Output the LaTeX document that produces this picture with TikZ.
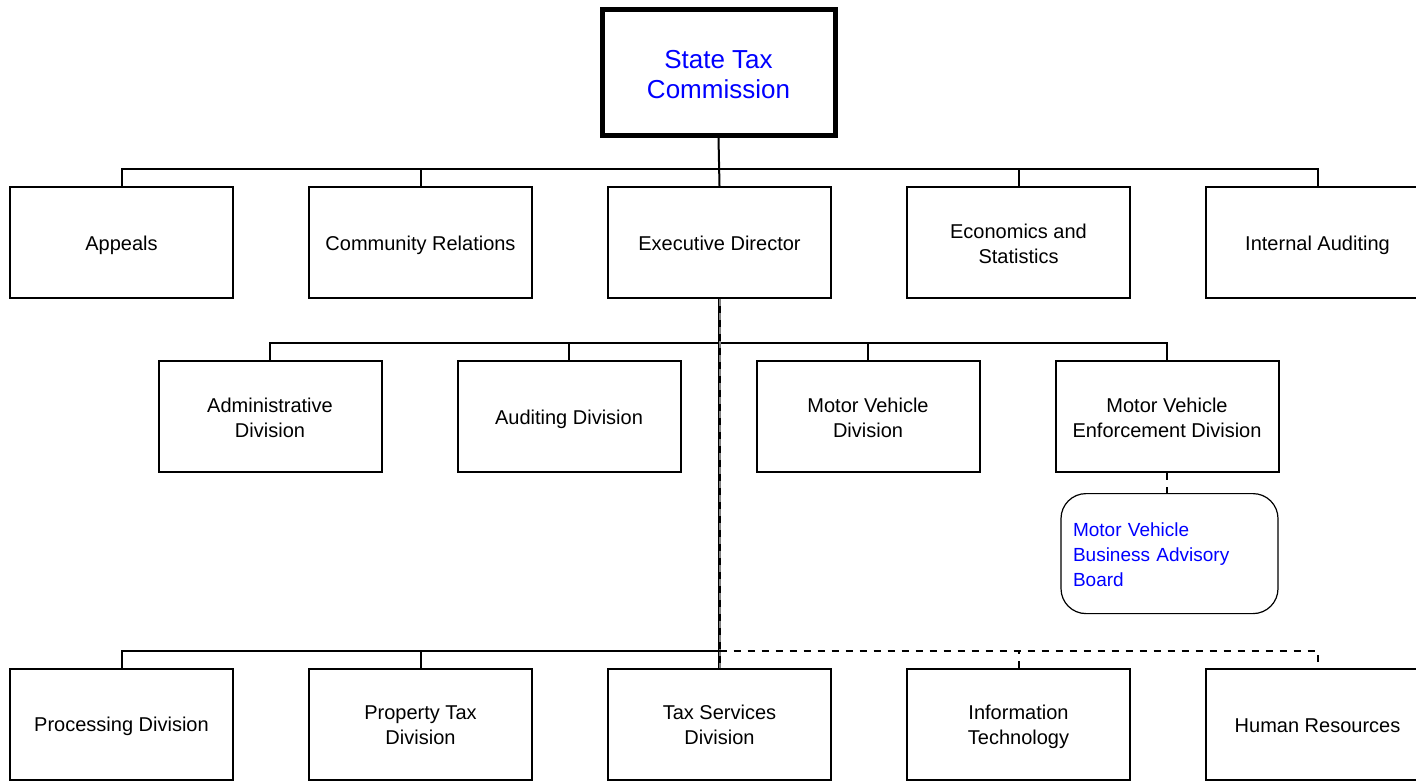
\documentclass[tikz,border=0pt]{standalone}
\usepackage{fontspec}
\setmainfont{Liberation Sans}
\usetikzlibrary{positioning}

\newcommand{\boxstrut}{\rule[-4pt]{0pt}{24pt}}

\begin{document}
\begin{tikzpicture}[
    x=1pt, y=-1pt,
    node distance=74pt and 74pt,
    box/.style={draw, line width=2pt, align=center, minimum width=223pt, minimum height=111pt, inner sep=0pt,
        font=\fontsize{20}{25}\selectfont, execute at begin node=\boxstrut, execute at end node=\boxstrut},
    twolines/.style={text height=45pt, text depth=4pt},
    headbox/.style={draw, line width=5pt, align=center, minimum width=233pt, minimum height=126pt, inner sep=0pt, text=blue,
        font=\fontsize{26}{30}\selectfont, text height=56pt, text depth=4pt},
    boardbox/.style={draw, line width=1.2pt, rounded corners=25pt, align=left, text width=193pt, minimum height=120pt, inner sep=12pt, text=blue,
        font=\fontsize{19}{25}\selectfont, text height=18pt, text depth=52.4pt},
    link/.style={line width=2pt},
    dotlink/.style={line width=2pt, dash pattern=on 7pt off 7pt}
]
\useasboundingbox (0,0) rectangle (1416,781);
\clip (0,0) rectangle (1416,781);

% Commission
\node[headbox] (stc) at (718.5,72.5) {State Tax\\Commission};

% Top row
\node[box] (exec) at (719.5,242.5) {Executive Director};
\node[box, left=of exec] (commrel) {Community Relations};
\node[box, left=of commrel] (appeals) {Appeals};
\node[box, twolines, right=of exec] (econ) {Economics and\\Statistics};
\node[box, right=of econ] (intaud) {Internal Auditing};

% Divisions
\node[box, twolines] (admin) at (270,416.5) {Administrative\\Division};
\node[box, right=of admin] (auditdiv) {Auditing Division};
\node[box, twolines, right=of auditdiv] (mvdiv) {Motor Vehicle\\Division};
\node[box, twolines, right=of mvdiv] (mvenf) {Motor Vehicle\\Enforcement Division};

% Advisory board
\node[boardbox, below=20pt of mvenf, xshift=2.5pt] (board) {Motor Vehicle\\Business Advisory\\Board};

% Bottom row
\node[box, twolines] (taxsvc) at (719.5,724) {Tax Services\\Division};
\node[box, twolines, left=of taxsvc] (proptax) {Property Tax\\Division};
\node[box, left=of proptax] (proc) {Processing Division};
\node[box, twolines, right=of taxsvc] (infotech) {Information\\Technology};
\node[box, right=of infotech] (hr) {Human Resources};

% Buses
\coordinate (bus1) at (719.5,169);
\coordinate (bus2) at (719.5,343);
\coordinate (bus3) at (719.5,651);

% Commission to top row
\draw[link] (stc.south) -- (exec.north);
\draw[link] (appeals.north) |- (bus1) -| (intaud.north);
\foreach \n in {commrel, econ}
    \draw[link] (\n.north) -- (\n.north |- bus1);

% Executive director to divisions
\draw[link] (admin.north) |- (bus2) -| (mvenf.north);
\foreach \n in {auditdiv, mvdiv}
    \draw[link] (\n.north) -- (\n.north |- bus2);
\draw[link, line width=3pt] (exec.south) -- (taxsvc.north);
\draw[dotlink, gray] (exec.south) -- (taxsvc.north);

% Bottom row
\draw[link] (proc.north) |- (bus3);
\draw[link] (proptax.north) -- (proptax.north |- bus3);
\draw[dotlink] (bus3) -| (hr.north);
\draw[dotlink] (infotech.north) -- (infotech.north |- bus3);

% Board
\draw[dotlink] (mvenf.south) -- (board.north -| mvenf.south);
\end{tikzpicture}
\end{document}
